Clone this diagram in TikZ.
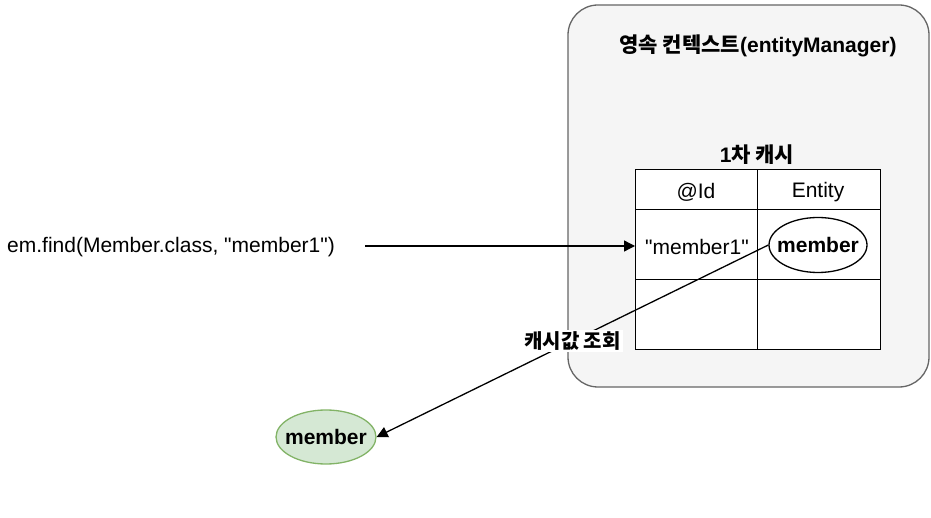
\documentclass[tikz,border=0pt]{standalone}
\usepackage{fontspec}
\setmainfont{Liberation Sans}
\newfontfamily\kr{Noto Sans CJK KR}
\usetikzlibrary{arrows.meta,shapes.geometric}
\definecolor{boxfill}{HTML}{F5F5F5}
\definecolor{boxline}{HTML}{666666}
\definecolor{gfill}{HTML}{D5E8D4}
\definecolor{gline}{HTML}{82B366}
\newcommand\qq{\textquotedbl}
\begin{document}
\begin{tikzpicture}[x=1pt,y=-1pt,
  txt/.style={font=\fontsize{21}{24}\selectfont, inner sep=0pt},
  btxt/.style={font=\fontsize{21}{24}\selectfont\bfseries, inner sep=0pt},
  cell/.style={draw=black, line width=1.3pt},
  ell/.style={ellipse, line width=1.3pt, inner ysep=0pt, inner xsep=-12pt, font=\fontsize{21}{24}\selectfont\bfseries},
  arr/.style={-{Triangle[length=11pt,width=11pt]}, line width=1.3pt}]
\useasboundingbox (0,0) rectangle (931,518);
% outer box
\draw[fill=boxfill, draw=boxline, line width=1.3pt, rounded corners=30pt] (568,5) rectangle (929,387);
\node[btxt] (title) at (758,46) {\kr\bfseries 영속 컨텍스트\rmfamily\bfseries(entityManager)};
\node[btxt] (cachetitle) at (757,155) {1\kr\bfseries 차 캐시};
% table
\node[cell, fill=white, minimum width=122pt, minimum height=40pt, inner sep=0pt, anchor=north west] (h1) at (635,169) {};
\node[cell, fill=white, minimum width=123pt, minimum height=40pt, inner sep=0pt, anchor=north west] (h2) at (757,169) {};
\node[cell, fill=white, minimum width=122pt, minimum height=70pt, inner sep=0pt, anchor=north west] (r1) at (635,209) {};
\node[cell, fill=white, minimum width=123pt, minimum height=70pt, inner sep=0pt, anchor=north west] (r2) at (757,209) {};
\node[cell, fill=white, minimum width=122pt, minimum height=70pt, inner sep=0pt, anchor=north west] (s1) at (635,279) {};
\node[cell, fill=white, minimum width=123pt, minimum height=70pt, inner sep=0pt, anchor=north west] (s2) at (757,279) {};
\node[txt] (idlbl) at (696,192) {@Id};
\node[txt] (entlbl) at (818,192) {Entity};
\node[txt] (key) at (697,247) {\qq member1\qq};
\node[ell, draw=black, fill=white, minimum width=98pt, minimum height=55pt] (mem) at (818,245) {member};
% left text
\node[txt, anchor=west] (call) at (7,247) {em.find(Member.class, \qq member1\qq)};
\coordinate (callend) at (365,246);
\draw[arr] (callend) -- (r1.west |- callend);
% green
\node[ell, draw=gline, fill=gfill, minimum width=100pt, minimum height=54pt] (gmem) at (326,437) {member};
\draw[arr] (mem.west) -- node[pos=0.5, fill=white, inner sep=2pt, font=\fontsize{20}{24}\selectfont] (lbl) {\kr\bfseries 캐시값 조회} (gmem.east);
\end{tikzpicture}
\end{document}
